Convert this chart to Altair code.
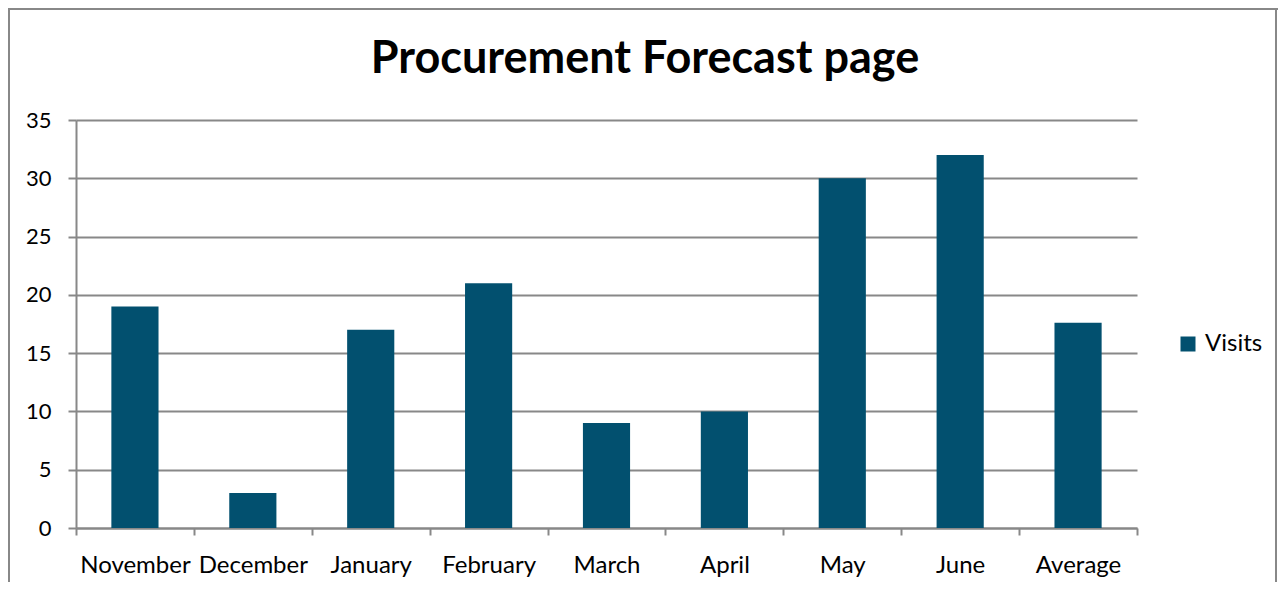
import altair as alt
import pandas as pd

# ---- data ----
months = ["November", "December", "January", "February", "March", "April", "May", "June", "Average"]
visits = [19, 3, 17, 21, 9, 10, 30, 32, 17.6]
series = ["Visits"] * len(months)
y_ticks = [0, 5, 10, 15, 20, 25, 30, 35]
title_text = ["Procurement Forecast page"]

df = pd.DataFrame({"month": months, "visits": visits, "series": series})

GRAY = "#888888"
BAR = "#02506F"
FONT = "Lato"

bars = alt.Chart(df).mark_bar(width=alt.RelativeBandSize(0.4)).encode(
    x=alt.X(
        "month:N", sort=months, title=None,
        scale=alt.Scale(paddingInner=0, paddingOuter=0),
        axis=alt.Axis(
            labelAngle=0, tickBand="extent", tickSize=7, tickWidth=2, tickColor=GRAY,
            domainColor=GRAY, domainWidth=2, labelFont=FONT, labelFontSize=24,
            labelColor="black", labelPadding=18, grid=False,
        ),
    ),
    y=alt.Y(
        "visits:Q", title=None,
        scale=alt.Scale(domain=[0, 35], nice=False),
        axis=alt.Axis(
            values=y_ticks, tickSize=8, tickWidth=2, tickColor=GRAY,
            domainColor=GRAY, domainWidth=2, grid=True, gridColor=GRAY, gridWidth=2,
            labelFont=FONT, labelFontSize=22, labelColor="black", labelPadding=17,
        ),
    ),
    color=alt.Color(
        "series:N", scale=alt.Scale(range=[BAR]),
        legend=alt.Legend(
            title=None, orient="none", legendX=1100, legendY=212, symbolType="square",
            symbolSize=225, symbolStrokeWidth=0, labelFont=FONT, labelFontSize=24,
            labelColor="black", labelOffset=5, padding=0,
        ),
    ),
)

one = alt.Data(values=[{"k": 1}])
title = alt.Chart(one).mark_text(
    font=FONT, fontSize=45, fontWeight="bold", color="black",
    align="center", baseline="alphabetic",
).encode(x=alt.value(569), y=alt.value(-47), text=alt.value(title_text[0]))

left = alt.Chart(one).mark_rule(color=GRAY, strokeWidth=2).encode(
    x=alt.value(-67), y=alt.value(-111), y2=alt.value(462))
top = alt.Chart(one).mark_rule(color=GRAY, strokeWidth=2).encode(
    x=alt.value(-68), x2=alt.value(1202), y=alt.value(-111))
right = alt.Chart(one).mark_rule(color=GRAY, strokeWidth=2).encode(
    x=alt.value(1200), y=alt.value(-111), y2=alt.value(462))

chart = alt.layer(bars, title, left, top, right).properties(
    width=1061, height=408,
    padding={"left": 68, "top": 112, "right": 141, "bottom": 54},
    autosize=alt.AutoSizeParams(type="none"),
).configure_view(stroke=None)

chart.save("out.html", embed_options={"renderer": "svg", "actions": False})
